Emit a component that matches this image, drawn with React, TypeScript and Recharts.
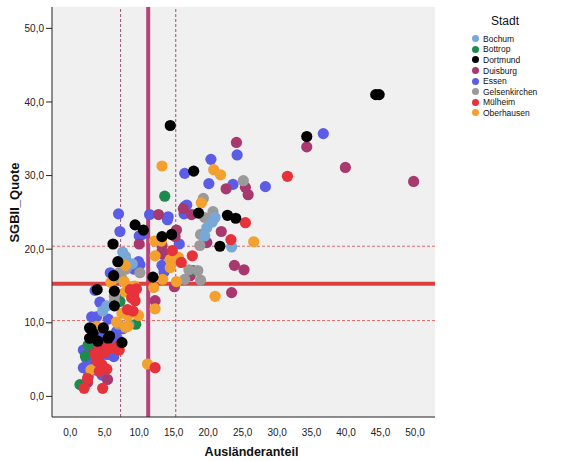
import React from 'react';
import { ScatterChart, Scatter, XAxis, YAxis, CartesianGrid, ReferenceLine, Label } from 'recharts';

const X_TICKS = [0, 5, 10, 15, 20, 25, 30, 35, 40, 45, 50];
const Y_TICKS = [0, 10, 20, 30, 40, 50];
const X_DOMAIN: [number, number] = [-2.65, 52.9];
const Y_DOMAIN: [number, number] = [-2.8, 52.9];

const MEAN_X = 11.3;
const BAND_X = [7.3, 15.3];
const MEAN_Y = 15.3;
const BAND_Y = [10.3, 20.4];

const bochum = [
  [23.4, 20.3], [20.6, 23.7], [19.8, 22.9], [19.5, 21.8], [4.7, 11.6], [8.0, 18.9],
  [9.0, 18.0], [5.3, 12.3], [21.0, 24.3], [7.6, 19.6],
];
const bottrop = [
  [13.7, 27.2], [17.8, 17.1], [8.4, 18.1], [7.2, 12.9], [9.5, 9.8], [2.2, 5.5],
  [1.4, 1.6], [2.6, 7.0],
];
const dortmund = [
  [44.3, 41.0], [44.8, 41.0], [34.3, 35.3], [14.5, 36.8], [17.9, 30.6], [22.8, 24.6],
  [24.0, 24.2], [21.7, 20.4], [18.6, 24.9], [9.4, 23.3], [10.6, 22.6], [6.2, 20.7],
  [6.9, 18.3], [3.9, 14.5], [6.4, 14.3], [6.4, 12.3], [2.8, 9.3], [2.8, 7.9],
  [4.8, 9.3], [5.5, 7.9], [7.5, 7.3], [3.0, 9.2], [14.7, 22.0], [13.3, 21.7],
  [12.0, 16.2], [6.3, 16.4], [5.7, 8.2], [3.3, 8.6], [4.0, 7.5],
];
const duisburg = [
  [34.3, 33.9], [39.9, 31.1], [49.8, 29.2], [24.1, 34.5], [22.6, 28.2], [25.4, 28.4],
  [25.8, 27.4], [21.9, 22.4], [19.8, 20.9], [23.8, 17.8], [25.2, 17.2], [23.4, 14.1],
  [16.4, 25.5], [12.8, 24.7], [17.6, 24.7], [15.2, 21.7], [13.3, 20.5], [10.0, 20.7],
  [13.4, 19.3], [17.4, 16.4], [15.1, 14.9], [12.3, 13.0], [15.4, 22.6], [13.3, 19.7],
  [3.6, 6.3], [3.1, 6.6], [5.4, 2.3], [2.5, 1.9], [3.9, 7.5],
];
const essen = [
  [36.7, 35.7], [24.2, 32.8], [20.4, 32.2], [20.1, 28.9], [23.6, 28.8], [28.3, 28.5],
  [16.6, 30.3], [16.9, 26.0], [14.2, 24.4], [11.5, 24.7], [10.4, 22.0], [10.0, 21.8],
  [16.5, 24.8], [16.6, 25.8], [15.8, 20.7], [13.3, 17.8], [13.6, 16.9], [7.0, 24.8],
  [7.2, 22.4], [3.6, 14.4], [4.3, 12.8], [3.1, 10.8], [3.8, 10.8], [4.5, 8.2],
  [5.5, 10.5], [6.8, 7.9], [6.4, 7.6], [7.6, 9.2], [6.7, 8.8], [5.8, 16.8],
  [9.9, 18.3], [10.1, 17.9], [9.2, 17.3], [6.8, 7.5], [2.4, 5.9], [2.3, 5.2],
  [5.2, 5.7], [6.3, 5.4], [5.7, 5.7], [1.9, 3.9], [3.5, 3.6], [4.6, 2.9],
  [2.6, 2.7], [1.9, 6.3], [2.6, 4.8], [14.1, 24.0],
];
const gelsenkirchen = [
  [25.1, 29.3], [19.3, 26.9], [20.7, 25.1], [19.5, 24.3], [18.9, 15.8], [18.8, 20.5],
  [17.2, 17.2], [18.5, 17.1], [16.6, 15.9], [6.4, 13.6], [6.4, 12.9], [8.5, 9.7],
  [7.0, 9.8], [6.7, 16.1], [7.5, 16.0], [8.1, 17.3], [10.1, 16.8], [7.1, 16.8],
  [8.0, 19.0], [18.9, 22.0],
];
const muelheim = [
  [31.5, 29.9], [25.4, 23.6], [23.3, 21.3], [14.8, 19.8], [17.7, 19.1], [16.1, 18.2],
  [8.3, 11.8], [9.1, 11.6], [8.9, 13.4], [9.4, 13.0], [9.2, 13.7], [9.6, 14.6],
  [8.7, 14.5], [12.3, 3.9], [6.8, 6.8], [7.1, 6.3], [4.2, 6.6], [4.8, 6.8],
  [3.6, 5.7], [4.1, 5.2], [3.9, 4.8], [4.6, 4.3], [4.2, 3.4], [5.3, 3.7],
  [2.5, 2.4], [2.0, 1.1], [4.7, 1.1], [5.0, 6.0], [6.0, 6.5],
];
const oberhausen = [
  [13.3, 31.3], [20.8, 30.8], [21.8, 30.1], [19.0, 26.3], [26.6, 21.0], [21.0, 13.6],
  [12.2, 21.1], [13.2, 21.1], [14.5, 18.6], [14.5, 17.5], [15.4, 15.6], [13.4, 15.9],
  [12.1, 14.8], [12.3, 11.9], [11.2, 4.4], [3.8, 9.5], [6.7, 10.1], [8.0, 9.4],
  [7.5, 11.3], [8.4, 11.0], [9.9, 11.0], [8.3, 9.5], [8.0, 14.2], [8.4, 14.9],
  [9.3, 15.0], [5.9, 15.5], [8.0, 17.8], [7.8, 15.6], [12.3, 19.1], [14.7, 18.2],
  [15.7, 18.9], [3.0, 3.6],
];

const CITY_NAMES = ['Bochum', 'Bottrop', 'Dortmund', 'Duisburg', 'Essen', 'Gelsenkirchen', 'Mülheim', 'Oberhausen'];
const CITY_COLORS = ['#78a8d8', '#1f8a4e', '#000000', '#a8396f', '#5b5de6', '#9a9a9a', '#e5323b', '#f3a02e'];
const CITY_POINTS = [bochum, bottrop, dortmund, duisburg, essen, gelsenkirchen, muelheim, oberhausen];

const DRAW_ORDER = [4, 3, 1, 5, 0, 7, 6, 2];

const FONT = '"Liberation Sans", Arial, sans-serif';
const fmt = (v: number) => v.toFixed(1).replace('.', ',');

const makeShape = (color: string) => (props: any) => (
  <circle cx={props.cx} cy={props.cy} r={5.6} fill={color} />
);

const YTitle = (props: any) => {
  const vb = props.viewBox || { x: 0, y: 0, width: 0, height: 0 };
  const cx = vb.x + 14;
  const cy = vb.y + vb.height / 2 - 9.5;
  return (
    <text x={cx} y={cy} transform={`rotate(-90 ${cx} ${cy})`} textAnchor="middle" dominantBaseline="central"
      fontFamily={FONT} fontWeight="bold" fontSize={13} fill="#111">SGBII_Quote</text>
  );
};

const XTitle = (props: any) => {
  const vb = props.viewBox || { x: 0, y: 0, width: 0, height: 0 };
  const cx = vb.x + vb.width / 2 + 8;
  const cy = vb.y + 35;
  return (
    <text x={cx} y={cy} textAnchor="middle" dominantBaseline="central"
      fontFamily={FONT} fontWeight="bold" fontSize={12.5} fill="#111">Ausländeranteil</text>
  );
};

export default function App() {
  return (
    <div style={{ position: 'absolute', left: 0, top: 0, width: 567, height: 461, background: '#fff' }}>
      <ScatterChart width={567} height={461} margin={{ top: 7, right: 132, bottom: 0, left: 0 }}>
        <CartesianGrid fill="#f0f0f0" horizontal={false} vertical={false} />
        <XAxis type="number" dataKey="x" domain={X_DOMAIN} ticks={X_TICKS} allowDataOverflow
          height={44} tickFormatter={fmt} tickLine={false} tickSize={0} tickMargin={12}
          axisLine={{ stroke: '#222' }} tick={{ fontSize: 10, fill: '#222', fontFamily: FONT }}>
          <Label content={<XTitle />} />
        </XAxis>
        <XAxis xAxisId="top" orientation="top" type="number" domain={X_DOMAIN} allowDataOverflow
          height={0} tick={false} tickLine={false} axisLine={{ stroke: '#444' }} />
        <YAxis type="number" dataKey="y" domain={Y_DOMAIN} ticks={Y_TICKS} allowDataOverflow
          width={52} tickFormatter={fmt} tickSize={6} tickMargin={2}
          tickLine={{ stroke: '#222' }} axisLine={{ stroke: '#222' }}
          tick={{ fontSize: 10, fill: '#222', fontFamily: FONT }}>
          <Label content={<YTitle />} />
        </YAxis>
        <YAxis yAxisId="right" orientation="right" type="number" domain={Y_DOMAIN} allowDataOverflow
          width={0} tick={false} tickLine={false} axisLine={{ stroke: '#444' }} />
        {DRAW_ORDER.map((i) => (
          <Scatter key={CITY_NAMES[i]} name={CITY_NAMES[i]}
            data={CITY_POINTS[i].map(([x, y]) => ({ x, y }))}
            fill={CITY_COLORS[i]} shape={makeShape(CITY_COLORS[i])} isAnimationActive={false} />
        ))}
        {BAND_X.map((v) => (
          <ReferenceLine key={'bx' + v} x={v} stroke="#a0507a" strokeWidth={1} strokeDasharray="3 2" />
        ))}
        {BAND_Y.map((v) => (
          <ReferenceLine key={'by' + v} y={v} stroke="#e06a6a" strokeWidth={1} strokeDasharray="3 2" />
        ))}
        <ReferenceLine x={MEAN_X} stroke="#b8437c" strokeWidth={4} />
        <ReferenceLine y={MEAN_Y} stroke="#d9403f" strokeWidth={4} />
      </ScatterChart>
      <div style={{ position: 'absolute', left: 470, top: 14, width: 70, textAlign: 'center', fontFamily: FONT, fontSize: 12, color: '#111' }}>Stadt</div>
      <div style={{ position: 'absolute', left: 472, top: 33.5, fontFamily: FONT, fontSize: 8.5, color: '#111' }}>
        {CITY_NAMES.map((name, i) => (
          <div key={name} style={{ display: 'flex', alignItems: 'center', height: 10.6 }}>
            <span style={{ width: 7, height: 7, borderRadius: '50%', background: CITY_COLORS[i], display: 'inline-block', marginRight: 4 }} />
            <span>{name}</span>
          </div>
        ))}
      </div>
    </div>
  );
}
